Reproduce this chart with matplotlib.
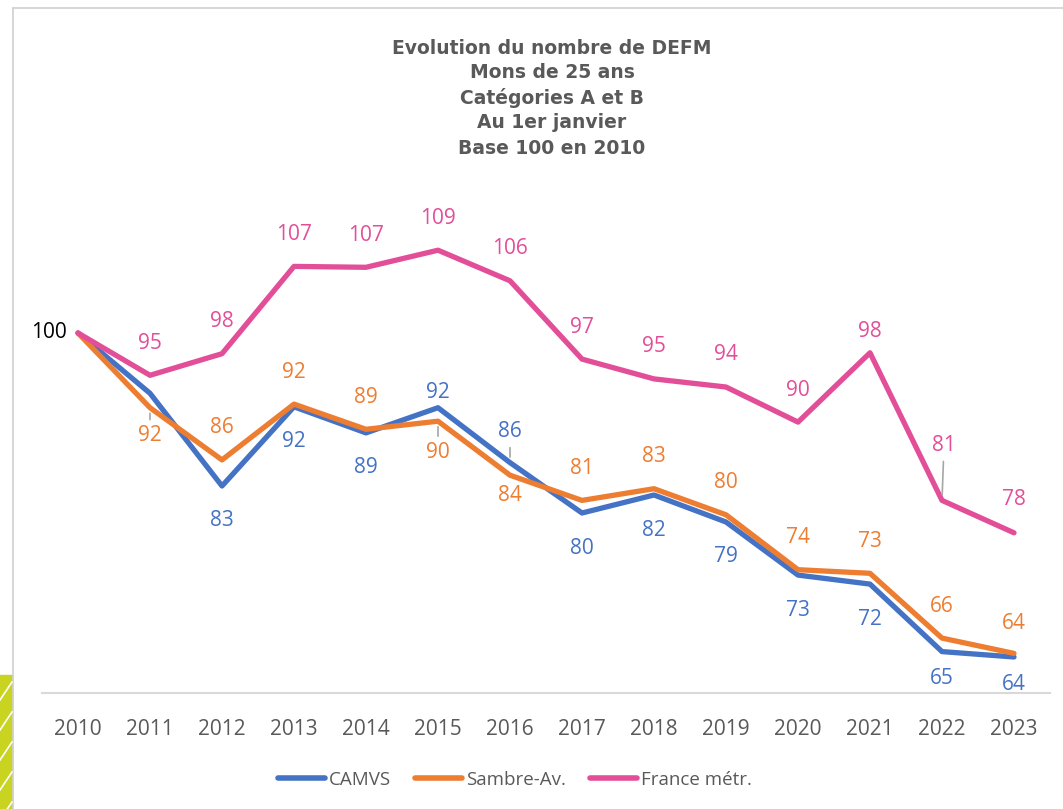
import matplotlib
matplotlib.use("Agg")
import matplotlib.pyplot as plt
from matplotlib.patches import Rectangle
from matplotlib.lines import Line2D

# ---------------- data ----------------
years = [2010, 2011, 2012, 2013, 2014, 2015, 2016, 2017, 2018, 2019, 2020, 2021, 2022, 2023]
camvs = [100, 93.3, 83.0, 91.8, 88.9, 91.7, 85.6, 80.0, 82.0, 79.0, 73.1, 72.1, 64.6, 64.0]
sambre = [100, 91.7, 85.9, 92.1, 89.3, 90.2, 84.2, 81.4, 82.7, 79.8, 73.7, 73.3, 66.1, 64.4]
france = [100, 95.3, 97.7, 107.4, 107.3, 109.2, 105.8, 97.1, 94.9, 94.0, 90.1, 97.8, 81.4, 77.8]
series_names = ["CAMVS", "Sambre-Av.", "France métr."]
title_lines = ["Evolution du nombre de DEFM", "Mons de 25 ans", "Catégories A et B",
               "Au 1er janvier", "Base 100 en 2010"]

# ---------------- style ----------------
C_BLUE = "#4472C4"
C_ORANGE = "#ED7D31"
C_PINK = "#E24E98"
GREY_TXT = "#595959"
LBL_FONT = "Open Sans"
LBL_SIZE = 15

W, H = 1063, 809
fig = plt.figure(figsize=(W / 100, H / 100), dpi=100)
fig.patch.set_facecolor("white")

ax = fig.add_axes([42 / W, 1 - 693 / H, (1050 - 42) / W, (693 - 153) / H])
x = list(range(len(years)))
lw = 3.8
ax.plot(x, camvs, color=C_BLUE, lw=lw, solid_capstyle="round", label=series_names[0], zorder=3)
ax.plot(x, sambre, color=C_ORANGE, lw=lw, solid_capstyle="round", label=series_names[1], zorder=4)
ax.plot(x, france, color=C_PINK, lw=lw, solid_capstyle="round", label=series_names[2], zorder=5)

ax.set_xlim(-0.5, len(years) - 0.5)
ax.set_ylim(60, 120)
ax.set_xticks(x)
ax.set_xticklabels([str(y) for y in years], fontsize=LBL_SIZE, color=GREY_TXT, family=LBL_FONT)
ax.tick_params(axis="x", length=0, pad=19)
ax.set_yticks([])
for s in ["left", "right", "top"]:
    ax.spines[s].set_visible(False)
ax.spines["bottom"].set_color("#D9D9D9")
ax.spines["bottom"].set_linewidth(1.5)

# label offsets in pixels (dx, dy, leader)
def off_list(default, overrides):
    d = [default] * len(years)
    for k, v in overrides.items():
        d[k] = v
    return d

pink_off = off_list((0, 32, False), {11: (0, 21, False), 12: (2, 55, True), 13: (0, 33, False)})
orange_off = off_list((0, 32, False), {1: (0, -28, True), 5: (0, -31, True), 6: (0, -20, False),
                                        13: (0, 30, False)})
blue_off = off_list((0, -35, False), {5: (0, 15, False), 6: (0, 31, True), 12: (0, -27, False),
                                       13: (0, -27, False)})

def add_labels(vals, offs, color, skip):
    for i, (v, (dx, dy, lead)) in enumerate(zip(vals, offs)):
        if i in skip:
            continue
        kw = {}
        if lead:
            kw["arrowprops"] = dict(arrowstyle="-", color="#A6A6A6", lw=1.2, shrinkA=2, shrinkB=4)
        ax.annotate(f"{round(v):d}", xy=(i, v), xytext=(dx, dy), textcoords="offset pixels",
                    ha="center", va="center", fontsize=LBL_SIZE, color=color, family=LBL_FONT,
                    zorder=6, **kw)

add_labels(france, pink_off, C_PINK, skip={0})
add_labels(sambre, orange_off, C_ORANGE, skip={0})
add_labels(camvs, blue_off, C_BLUE, skip={0, 1})
ax.annotate(f"{round(france[0]):d}", xy=(0, france[0]), xytext=(-29, 0), textcoords="offset pixels",
            ha="center", va="center", fontsize=LBL_SIZE, color="black", family=LBL_FONT)

# title
ty = [48, 73, 98, 123, 149]
for t, yy in zip(title_lines, ty):
    fig.text(552 / W, 1 - yy / H, t, ha="center", va="center", fontsize=13.5,
             fontweight="bold", color=GREY_TXT, family="DejaVu Sans")

# legend
handles = [Line2D([0], [0], color=c, lw=4, solid_capstyle="round") for c in (C_BLUE, C_ORANGE, C_PINK)]
leg = fig.legend(handles, series_names, loc="center", bbox_to_anchor=(515 / W, 1 - 780 / H), ncol=3,
                 frameon=False, handlelength=2.5, handletextpad=0.2, columnspacing=1.3,
                 prop={"family": LBL_FONT, "size": 13.5})
for t in leg.get_texts():
    t.set_color(GREY_TXT)

# frame border and decoration
fig.add_artist(Line2D([13 / W, 13 / W], [0, 1 - 8 / H], transform=fig.transFigure, color="#D0D0D0", lw=1.2))
fig.add_artist(Line2D([13 / W, 1], [1 - 8 / H, 1 - 8 / H], transform=fig.transFigure, color="#D0D0D0", lw=1.2))
green = Rectangle((0, 0), 12 / W, (H - 675) / H, transform=fig.transFigure, color="#C9D420", zorder=1)
fig.add_artist(green)
for y0 in [690, 720, 750, 780, 810]:
    fig.add_artist(Line2D([0, 12 / W], [1 - (y0 + 10) / H, 1 - (y0 - 8) / H], transform=fig.transFigure,
                          color="white", lw=1.2, zorder=2))

fig.savefig("out.png", dpi=100)
